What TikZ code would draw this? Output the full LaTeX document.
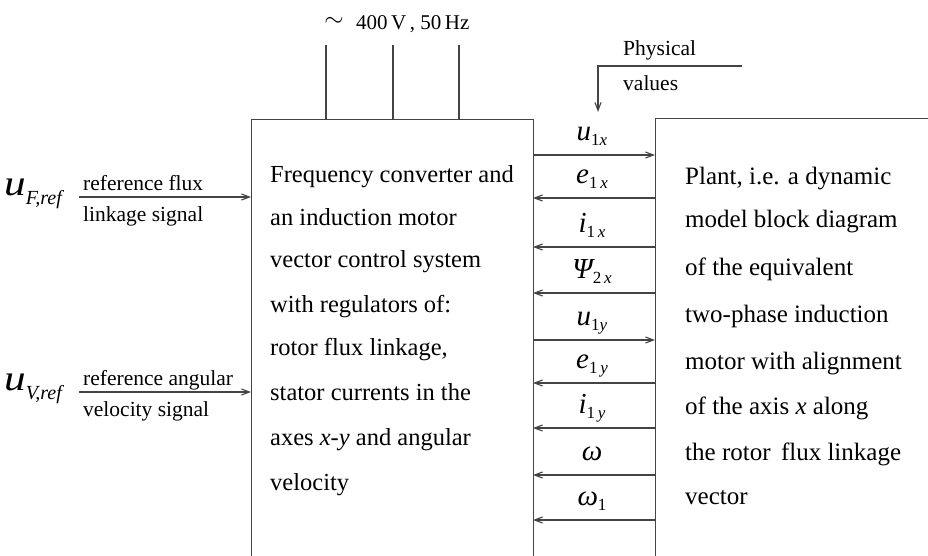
\documentclass[tikz,border=0pt]{standalone}
\usepackage{fontspec}
\usepackage{graphicx}
\setmainfont{Liberation Serif}
\usetikzlibrary{arrows.meta}
\definecolor{ln}{HTML}{444444}
\newcommand{\sig}[2]{{\fontsize{29}{30}\selectfont\itshape #1}\raisebox{-5pt}{\fontsize{17}{18}\selectfont #2}}
\begin{document}
\begin{tikzpicture}[x=1pt,y=-1pt,
  wire/.style={draw=ln,line width=1.1pt},
  arr/.style={wire,-{Straight Barb[length=8pt,width=6pt]}},
  blk/.style={draw=ln,line width=1.1pt,anchor=north west,inner sep=0pt},
  small/.style={font=\fontsize{21.5}{22}\selectfont,inner sep=0pt},
  body/.style={font=\fontsize{24.5}{26}\selectfont,inner sep=0pt,anchor=base west},
  lbl/.style={inner sep=0pt,anchor=base}]
\clip (0,0) rectangle (928,555);
\fill[white] (0,0) rectangle (928,555);
% blocks
\node[blk,minimum width=282pt,minimum height=460pt] (conv) at (251,119) {};
\node[blk,minimum width=320pt,minimum height=460pt] (plant) at (655,118) {};
% block texts
\foreach \y/\t [count=\i] in {
  182/{Frequency converter and},
  225/{an induction motor},
  267/{vector control system},
  312/{with regulators of:},
  355/{rotor flux linkage,},
  400/{stator currents in the},
  445/{axes \textit{x}-\textit{y} and angular},
  490/{velocity}} {
  \node[body] (c\i) at (270,\y) {\t};
}
\foreach \y/\t [count=\i] in {
  184/{Plant, i.e. a dynamic},
  227/{model block diagram},
  275/{of the equivalent},
  322/{two-phase induction},
  369/{motor with alignment},
  414/{of the axis \textit{x} along},
  460/{the rotor\, flux linkage},
  504/{vector}} {
  \node[body,font=\fontsize{25}{26}\selectfont] (p\i) at (685,\y) {\t};
}
% supply
\coordinate (s1) at (326,45); \coordinate (s2) at (393,45); \coordinate (s3) at (459,45);
\draw[wire] (s1) -- (s1 |- conv.north);
\draw[wire] (s2) -- (s2 |- conv.north);
\draw[wire] (s3) -- (s3 |- conv.north);
\node[inner sep=0pt] (tilde) at (334,22) {\fontsize{32}{32}\selectfont$\sim$};
\node[inner sep=0pt,anchor=base west,font=\fontsize{21}{22}\selectfont] (supply) at (356,29) {400\,V\,, 50\,Hz};
% physical values
\node[small,anchor=base west] (phys) at (623,55) {Physical};
\node[small,anchor=base west] (vals) at (623,90) {values};
\coordinate (p0) at (742,66);
\coordinate (p1) at (598,66);
\coordinate (p2) at (598,112);
\draw[arr] (p0) -- (p1) -- (p2);
% left inputs
\coordinate (fin) at (79,197);
\coordinate (vin) at (79,392);
\draw[arr] (fin) -- (fin -| conv.west);
\draw[arr] (vin) -- (vin -| conv.west);
\node[lbl,anchor=base west] (uf) at (4,195) {\fontsize{36}{36}\selectfont\itshape\scalebox{1.2}[1]{u}\raisebox{-9pt}{\fontsize{20}{20}\selectfont F,ref}};
\node[lbl,anchor=base west] (uv) at (4,390) {\fontsize{36}{36}\selectfont\itshape\scalebox{1.2}[1]{u}\raisebox{-9pt}{\fontsize{20}{20}\selectfont V,ref}};
\node[small,anchor=base west] (f1) at (83,190) {reference flux};
\node[small,anchor=base west] (f2) at (83,221) {linkage signal};
\node[small,anchor=base west] (v1) at (83,385) {reference angular};
\node[small,anchor=base west] (v2) at (83,416) {velocity signal};
% signals between blocks
\foreach \y/\d/\t [count=\i] in {
  155/r/{\sig{u}{1\textit{x}}},
  198/l/{\sig{e}{1\,\textit{x}}},
  247/l/{\sig{i}{1\,\textit{x}}},
  293/l/{\sig{Ψ}{2\,\textit{x}}},
  340/r/{\sig{u}{1\textit{y}}},
  383/l/{\sig{e}{1\,\textit{y}}},
  428/l/{\sig{i}{1\,\textit{y}}},
  475/l/{\sig{ω}{}},
  520/l/{\sig{ω}{1}}} {
  \coordinate (a\i) at (533,\y);
  \coordinate (b\i) at (655,\y);
  \if\d r
    \draw[arr] (a\i) -- (b\i);
  \else
    \draw[arr] (b\i) -- (a\i);
  \fi
  \node[lbl] (t\i) at (592,\y-15) {\t};
}
\end{tikzpicture}
\end{document}
